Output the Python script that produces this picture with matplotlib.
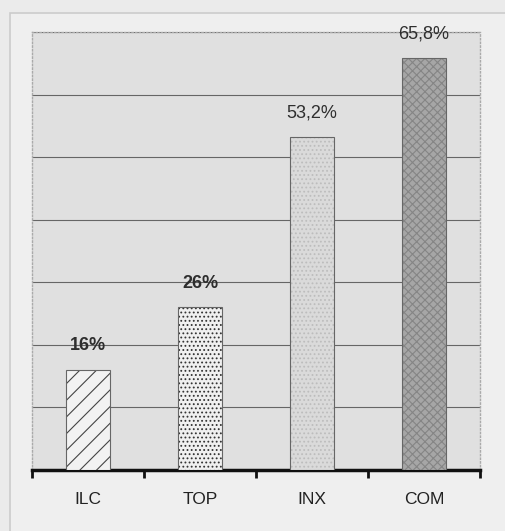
"""
bar chart ILC / TOP / INX / COM
"""
import matplotlib.pyplot as plt
from matplotlib.patches import Rectangle

categories = ["ILC", "TOP", "INX", "COM"]
values = [16, 26, 53.2, 65.8]
labels = ["16%", "26%", "53,2%", "65,8%"]

face = ["#f2f2f2", "#f0f0f0", "#dadada", "#a6a6a6"]
hatches = ["//", "....", "....", "xxxx"]
hatch_col = ["#444444", "#333333", "#bdbdbd", "#858585"]
weights = ["bold", "bold", "normal", "normal"]

plt.rcParams['font.family'] = ['Liberation Sans', 'DejaVu Sans']
plt.rcParams['hatch.linewidth'] = 0.8

fig = plt.figure(figsize=(5.05, 5.31), dpi=100, facecolor="#ebebeb")
# outer frame of the scanned box
fig.patches.append(Rectangle((10 / 505, -0.01), 1.0, 1 - 13 / 531 + 0.01,
                             transform=fig.transFigure, facecolor="#efefef",
                             edgecolor="#cccccc", linewidth=1.2, zorder=-5))

ax = fig.add_axes([32 / 505, 61 / 531, 448 / 505, 438 / 531])
ax.set_facecolor("#e0e0e0")

x = list(range(len(categories)))
for i in x:
    ax.bar(i, values[i], width=0.4, color=face[i], edgecolor=hatch_col[i],
           hatch=hatches[i], linewidth=0, zorder=3)
    ax.bar(i, values[i], width=0.4, color="none", edgecolor="#666666",
           linewidth=0.8, zorder=4)
    ax.text(i, values[i] + 2.5, labels[i], ha="center", va="bottom",
            fontsize=13, fontweight=weights[i], color="#2e2e2e", zorder=5)

ax.set_xlim(-0.5, 3.5)
ax.set_ylim(0, 70)
ax.set_yticks(range(0, 71, 10))
ax.yaxis.grid(True, color="#666666", linewidth=0.8)
ax.set_axisbelow(True)
ax.tick_params(axis="y", left=False, labelleft=False)

ax.set_xticks([-0.5, 0.5, 1.5, 2.5, 3.5])
ax.set_xticklabels([])
ax.set_xticks(x, minor=True)
ax.set_xticklabels(categories, minor=True, fontsize=12.5, color="#222222")
ax.tick_params(axis="x", which="major", direction="out", length=6, width=2,
               color="#111111")
ax.tick_params(axis="x", which="minor", length=0, pad=16)

for s in ["left", "right", "top"]:
    ax.spines[s].set_color("#aaaaaa")
    ax.spines[s].set_linestyle(":")
    ax.spines[s].set_linewidth(1)
ax.spines["bottom"].set_color("#111111")
ax.spines["bottom"].set_linewidth(2.5)

fig.savefig("out.png", dpi=100, facecolor=fig.get_facecolor())
